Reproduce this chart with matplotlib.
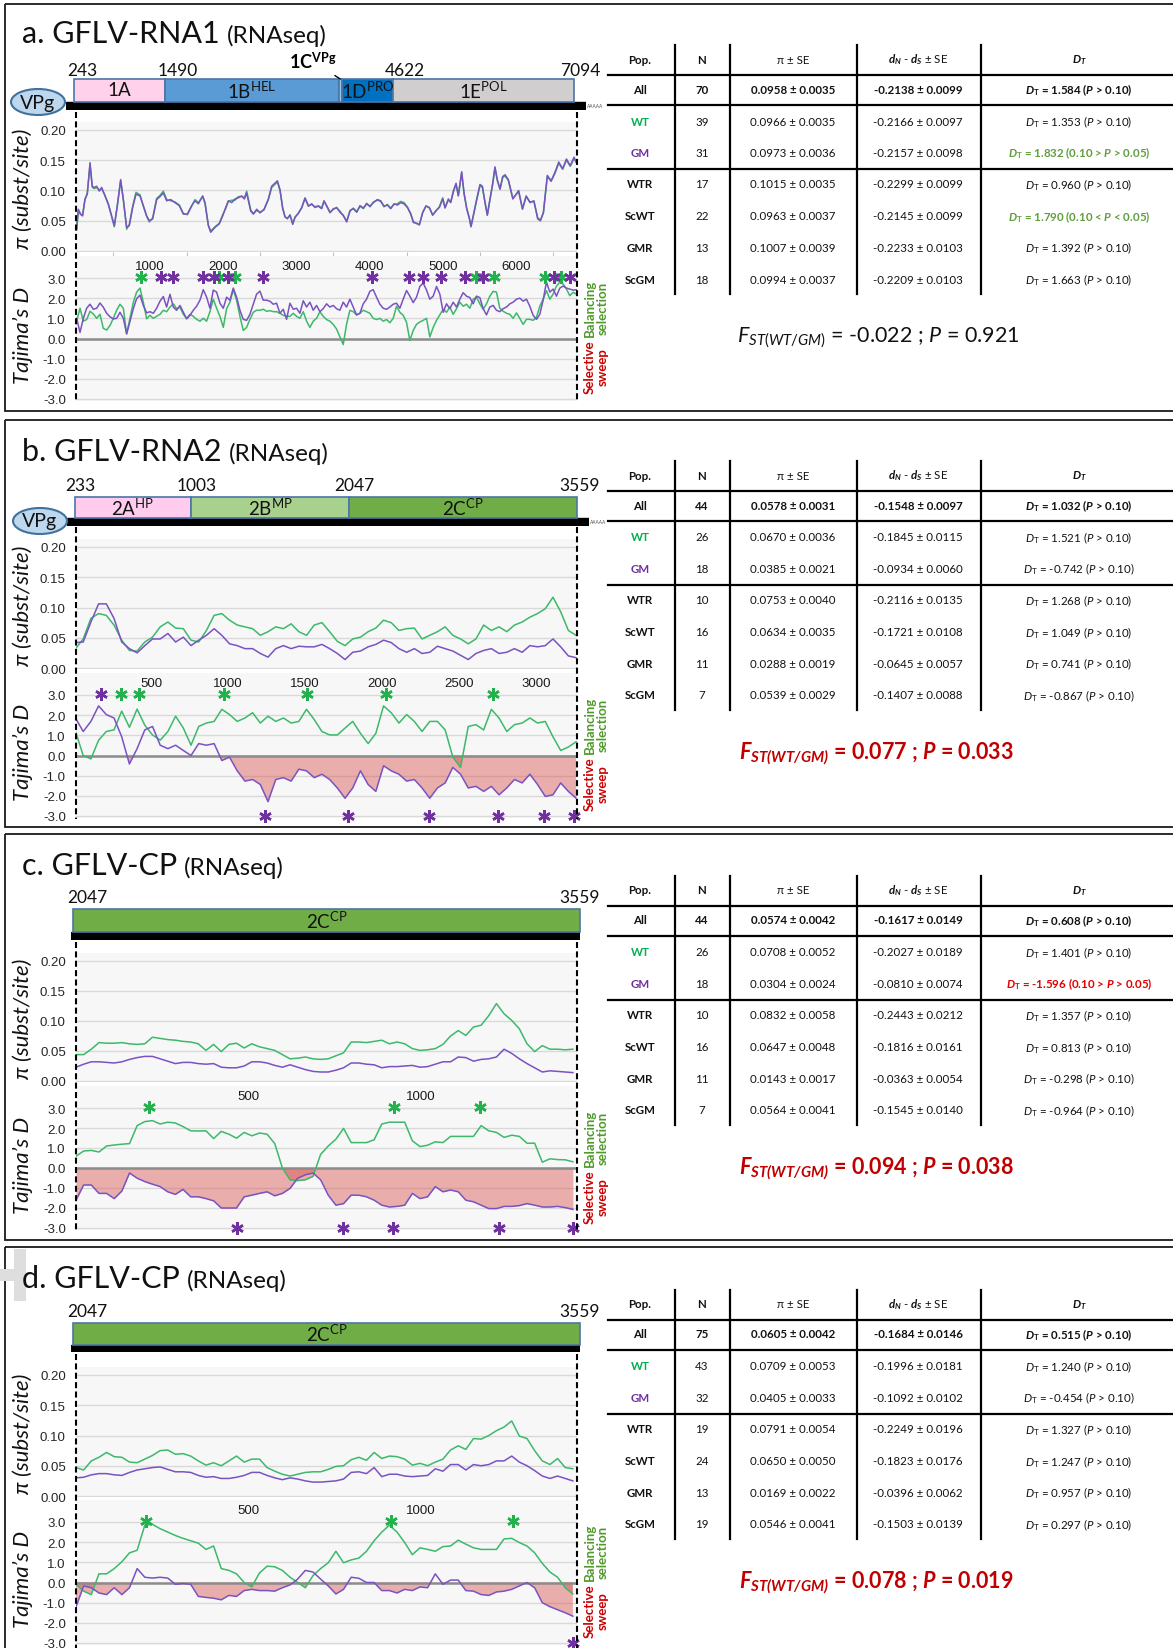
import numpy as np
import matplotlib
matplotlib.use("Agg")
import matplotlib.pyplot as plt
from matplotlib.patches import Rectangle, Ellipse
import matplotlib.transforms as mtransforms

plt.rcParams['font.family'] = ['Lato', 'DejaVu Sans']
plt.rcParams['mathtext.fontset'] = 'custom'
plt.rcParams['mathtext.rm'] = 'Lato'
plt.rcParams['mathtext.it'] = 'Lato:italic'
plt.rcParams['mathtext.bf'] = 'Lato:bold'
plt.rcParams['mathtext.bfit'] = 'Lato:italic:bold'

W, H = 1173, 1649
GREEN = '#3cb96a'
PURPLE = '#7a52c2'

# ---------------- data ----------------
# panel a: GFLV-RNA1, nucleotide diversity (sliding window positions)
a_pi_pos = [0, 22, 54, 81, 113, 145, 182, 213, 240, 272, 309, 341, 386, 432, 477, 513, 554, 600, 636, 682,
            718, 764, 809, 864, 909, 955, 991, 1037, 1091, 1137, 1182, 1228, 1282, 1341, 1400, 1455, 1510, 1569, 1614, 1660,
            1719, 1751, 1796, 1828, 1887, 1946, 1992, 2033, 2069, 2115, 2160, 2206, 2251, 2288, 2319, 2374, 2410, 2456, 2501, 2556,
            2615, 2660, 2738, 2774, 2810, 2842, 2874, 2910, 2947, 2978, 3024, 3070, 3115, 3161, 3206, 3251, 3297, 3342, 3374, 3410,
            3456, 3501, 3547, 3592, 3638, 3683, 3729, 3774, 3820, 3865, 3911, 3956, 4002, 4047, 4102, 4147, 4193, 4238, 4284, 4329,
            4375, 4420, 4465, 4511, 4556, 4593, 4638, 4675, 4720, 4765, 4811, 4856, 4902, 4947, 4993, 5025, 5070, 5102, 5138, 5175,
            5206, 5252, 5284, 5320, 5356, 5379, 5411, 5457, 5502, 5534, 5570, 5602, 5638, 5675, 5706, 5738, 5775, 5811, 5843, 5888,
            5950, 6029, 6081, 6132, 6184, 6237, 6289, 6326, 6367, 6420, 6472, 6524, 6576, 6629, 6681, 6733, 6785, 6811]
a_pi_gm = [.037, .069, .061, .058, .086, .094, .146, .107, .105, .107, .099, .105, .091, .077, .058, .042, .075, .118, .085, .039,
           .042, .072, .094, .091, .075, .058, .050, .053, .085, .090, .096, .083, .085, .080, .075, .061, .061, .075, .083, .078,
           .091, .080, .042, .031, .039, .045, .058, .072, .083, .080, .086, .088, .091, .086, .096, .066, .061, .069, .063, .069,
           .086, .107, .116, .101, .070, .056, .054, .059, .044, .056, .062, .072, .087, .074, .078, .072, .074, .070, .083, .075,
           .064, .069, .072, .064, .059, .048, .067, .070, .064, .075, .071, .078, .074, .080, .085, .083, .074, .076, .070, .078,
           .076, .080, .078, .072, .062, .047, .046, .043, .064, .074, .072, .059, .067, .072, .086, .071, .086, .080, .099, .112,
           .091, .131, .096, .070, .054, .040, .059, .086, .110, .107, .080, .059, .086, .112, .139, .118, .102, .123, .126, .118,
           .086, .100, .069, .091, .080, .083, .053, .050, .064, .125, .116, .130, .147, .136, .152, .141, .155, .147]
a_pi_wt = [.035, .066, .060, .060, .084, .096, .142, .105, .103, .105, .101, .103, .092, .078, .057, .040, .074, .116, .086, .036,
           .044, .074, .097, .093, .074, .057, .048, .055, .087, .092, .099, .085, .083, .081, .076, .062, .060, .074, .085, .080,
           .090, .078, .043, .033, .040, .046, .060, .070, .082, .084, .084, .090, .090, .088, .099, .068, .062, .067, .064, .068,
           .085, .105, .114, .100, .072, .057, .053, .060, .046, .055, .063, .071, .088, .075, .077, .073, .075, .071, .082, .074,
           .063, .070, .071, .066, .058, .050, .066, .071, .065, .074, .070, .079, .073, .081, .084, .082, .073, .077, .071, .077,
           .078, .082, .080, .073, .061, .049, .045, .044, .063, .075, .071, .060, .066, .073, .088, .072, .084, .081, .097, .110,
           .092, .129, .095, .071, .055, .041, .058, .084, .108, .105, .081, .060, .085, .110, .137, .116, .103, .121, .124, .117,
           .087, .098, .070, .090, .081, .082, .055, .051, .063, .123, .115, .128, .145, .135, .150, .140, .153, .148]
# panel a: Tajima's D, windows every 45.45 nt
a_window_step = 45.45
a_d_gm = [1.0, 0.3, 1.0, 1.5, 1.7, 1.45, 1.5, 1.76, 1.55, 1.25, 1.08, 0.97, 1.0, 1.3, 1.0, 0.23, 0.86, 1.48, 1.98, 2.15,
          1.64, 1.27, 1.33, 1.25, 1.5, 1.85, 2.08, 1.56, 2.19, 1.56, 1.4, 1.64, 1.3, 0.97, 1.15, 1.4, 1.6, 1.9, 2.42, 2.05,
          1.5, 2.4, 2.3, 1.75, 1.5, 2.05, 1.9, 2.5, 2.05, 1.4, 0.95, 0.9, 1.2, 1.7, 2.2, 2.35, 1.9, 1.9, 1.85, 1.7, 1.75,
          1.25, 1.45, 0.95, 1.75, 1.45, 1.5, 1.25, 1.87, 1.56, 1.8, 1.4, 1.64, 1.33, 1.48, 1.72, 1.56, 1.64, 1.48, 1.4, 1.8,
          1.56, 1.95, 1.56, 1.17, 1.25, 1.72, 1.95, 2.34, 2.42, 2.05, 1.7, 1.5, 1.45, 1.56, 1.7, 1.75, 1.5, 1.95, 2.38, 2.1,
          1.78, 2.05, 2.58, 2.75, 2.4, 1.95, 2.1, 2.58, 2.2, 1.3, 1.72, 1.48, 1.8, 1.56, 1.95, 2.27, 2.1, 2.03, 1.72, 2.1,
          2.03, 1.48, 1.17, 1.56, 1.64, 1.4, 1.33, 1.48, 1.56, 1.72,
          1.8, 1.95, 2.0, 1.85, 1.95, 1.6, 1.15, 0.95, 1.2, 1.9, 2.8, 2.3, 2.45, 2.1, 2.5, 2.6, 2.5, 2.45, 2.4, 2.42]
a_d_wt = [0.86, 1.5, 0.86, 0.94, 1.35, 1.22, 1.0, 1.2, 0.5, 0.42, 0.65, 1.0, 1.4, 1.7, 1.5, 0.23, 1.0, 1.8, 2.3, 2.5,
          1.8, 0.98, 1.15, 1.0, 1.1, 1.2, 1.4, 1.33, 1.56, 1.72, 1.48, 1.55, 1.2, 1.0, 1.2, 1.1, 0.95, 0.86, 1.0, 0.86,
          1.33, 1.95, 1.5, 1.1, 0.55, 1.48, 1.8, 2.42, 1.9, 1.1, 0.4, 0.55, 0.95, 1.3, 1.4, 1.4, 1.45, 1.35, 1.38, 1.33, 1.33,
          1.25, 1.15, 1.1, 1.1, 1.25, 1.1, 1.0, 1.33, 0.86, 0.55, 0.86, 1.0, 1.33, 1.1, 0.94, 0.86, 0.7, 0.47, 0.08, -0.3,
          0.7, 1.4, 1.33, 1.17, 1.25, 1.4, 1.33, 1.25, 1.0, 0.94, 1.0, 0.86, 0.94, 0.78, 1.0, 1.6, 1.3, 1.15, 0.8, -0.1,
          0.4, 0.7, 0.82, 0.9, 1.0, 0.08, 0.55, 0.9, 1.17, 1.45, 1.3, 1.56, 1.2, 1.48, 1.8, 1.6, 1.7, 1.5, 1.95, 2.05,
          1.72, 1.45, 1.72, 2.1, 2.34, 2.3, 1.5, 1.35, 1.25, 1.2,
          1.0, 1.27, 1.0, 0.7, 0.95, 0.95, 0.9, 1.05, 1.6, 1.95, 2.37, 1.95, 2.2, 2.6, 2.8, 2.7, 2.45, 2.12, 2.29, 2.2]
a_star_wt_top = [877, 1945, 2165, 5443, 5688, 6393, 6603]
a_star_gm_top = [1146, 1314, 1720, 1877, 2060, 2546, 4028, 4530, 4723, 4968, 5297, 5542, 6514, 6723]
a_star_gm_bottom = []

# panel b: GFLV-RNA2, windows every 50 nt starting at 10
b_window_start, b_window_step = 10, 50
b_pi_gm = [.042, .043, .076, .106, .106, .082, .043, .032, .025, .037, .048, .048, .057, .043, .051, .037, .046, .054, .065, .054,
           .040, .037, .032, .032, .024, .018, .032, .037, .032, .036, .035, .035, .039, .032, .024, .014, .026, .028, .035, .039,
           .046, .042, .032, .026, .032, .024, .026, .036, .032, .028, .021, .014, .024, .029, .032, .024, .026, .032, .026, .037,
           .035, .037, .048, .035, .020, .017]
b_pi_wt = [.032, .048, .082, .090, .087, .071, .046, .029, .028, .043, .051, .068, .076, .066, .065, .046, .043, .062, .087, .090,
           .079, .071, .068, .065, .054, .060, .068, .065, .073, .060, .054, .071, .075, .060, .044, .037, .048, .051, .060, .066,
           .079, .075, .062, .065, .066, .048, .054, .060, .068, .054, .048, .040, .048, .071, .062, .068, .060, .071, .076, .084,
           .090, .098, .117, .093, .062, .054]
b_d_gm = [1.86, 1.19, 1.69, 2.46, 2.03, 1.86, 0.93, -0.42, 0.34, 1.27, 1.44, 0.51, 0.34, 0.51, 0.25, 0.0, 0.59, 0.51, 0.59, -0.25,
          -0.08, -0.76, -1.27, -1.19, -1.44, -2.29, -1.19, -1.1, -1.27, -0.68, -0.76, -1.1, -0.93, -1.19, -1.61, -2.12, -1.61, -0.76, -1.44, -1.78,
          -0.51, -0.76, -0.93, -1.27, -1.19, -1.61, -2.12, -1.61, -1.36, -0.59, -0.93, -1.61, -1.53, -1.78, -1.53, -1.95, -1.61, -1.19, -1.36, -0.93,
          -1.44, -2.03, -1.95, -1.36, -1.78, -2.12]
b_d_wt = [1.19, 0.0, -0.17, 0.76, 1.19, 1.27, 2.2, 1.4, 2.3, 1.5, 1.02, 0.76, 1.19, 1.95, 1.36, 0.51, 1.44, 1.61, 1.69, 2.29,
          2.03, 1.69, 1.86, 2.12, 1.61, 1.95, 1.69, 1.86, 1.61, 1.69, 2.29, 1.78, 1.19, 1.02, 1.02, 1.36, 1.69, 1.1, 0.59, 1.1,
          2.46, 2.12, 1.61, 2.03, 1.69, 1.19, 1.69, 1.69, 1.27, -0.08, -0.59, 1.44, 1.53, 1.27, 2.29, 1.86, 1.19, 1.53, 1.61, 1.86,
          1.61, 1.69, 0.93, 0.25, 0.42, 0.68]
b_star_wt_top = [304, 420, 972, 1515, 2025, 2720]
b_star_gm_top = [173]
b_star_gm_bottom = [1242, 1781, 2303, 2750, 3053, 3247]

# panels c and d: GFLV-CP, windows every 22.2 nt
cd_window_step = 22.2
c_pi_wt = [.044, .044, .053, .064, .063, .063, .064, .062, .061, .062, .073, .071, .069, .068, .066, .065, .062, .051, .061, .049,
           .061, .063, .055, .062, .057, .054, .051, .044, .037, .038, .040, .037, .036, .037, .042, .047, .065, .065, .064, .066,
           .068, .062, .065, .062, .054, .051, .052, .054, .061, .075, .084, .076, .090, .093, .109, .129, .112, .101, .087, .062,
           .049, .059, .053, .053, .052, .053]
c_pi_gm = [.023, .028, .032, .032, .031, .030, .032, .036, .039, .041, .041, .037, .033, .029, .031, .031, .029, .028, .029, .023,
           .022, .022, .025, .032, .032, .030, .026, .023, .027, .023, .019, .016, .015, .015, .018, .022, .030, .030, .028, .027,
           .022, .024, .024, .025, .026, .023, .024, .028, .032, .032, .040, .039, .033, .036, .037, .040, .053, .046, .037, .029,
           .022, .015, .017, .016, .015, .014]
c_d_wt = [0.59, 0.85, 0.88, 0.80, 1.10, 1.15, 1.19, 1.22, 2.12, 2.32, 2.37, 2.2, 2.29, 2.25, 2.07, 1.86, 1.85, 1.86, 1.47, 1.83,
          1.69, 1.49, 1.78, 1.61, 1.75, 1.69, 1.22, 0.0, -0.59, -0.63, -0.59, -0.42, 0.68, 1.1, 1.44, 1.98, 1.27, 1.27, 1.27, 1.41,
          2.2, 2.29, 2.29, 2.29, 1.36, 1.07, 1.14, 1.31, 1.27, 1.58, 1.58, 1.58, 1.58, 2.12, 1.86, 1.78, 1.53, 1.64, 1.58, 1.24,
          1.24, 0.29, 0.46, 0.42, 0.41, 0.31]
c_d_gm = [-1.61, -0.85, -0.85, -1.27, -1.27, -1.53, -1.15, -0.25, -0.51, -0.68, -0.81, -0.93, -1.19, -1.32, -1.07, -1.44, -1.44, -1.53, -1.64, -2.0,
          -2.0, -2.0, -1.44, -1.36, -1.27, -1.19, -1.39, -1.27, -1.02, -0.51, -0.34, -0.25, -0.59, -1.36, -1.86, -1.78, -1.36, -1.36, -1.44, -1.61,
          -1.86, -1.95, -1.92, -1.86, -1.27, -1.53, -1.44, -0.93, -1.19, -1.1, -1.19, -1.61, -1.69, -1.86, -2.03, -2.03, -1.92, -1.92, -1.88, -1.78,
          -1.86, -1.95, -1.95, -1.92, -1.98, -2.07]
c_star_wt_top = [213, 924, 1174]
c_star_gm_top = []
c_star_gm_bottom = [468, 774, 921, 1229, 1443]

d_pi_wt = [.047, .043, .058, .064, .072, .065, .064, .056, .055, .061, .067, .075, .076, .069, .070, .066, .058, .051, .055, .050,
           .058, .066, .056, .061, .061, .047, .041, .036, .033, .036, .039, .040, .040, .044, .049, .050, .060, .064, .059, .072,
           .062, .066, .065, .061, .051, .054, .050, .056, .061, .076, .083, .077, .095, .094, .100, .108, .114, .124, .099, .095,
           .075, .058, .052, .062, .047, .045]
d_pi_gm = [.030, .031, .035, .037, .037, .035, .034, .039, .043, .045, .047, .048, .044, .040, .040, .039, .034, .031, .032, .029,
           .029, .031, .034, .039, .039, .034, .030, .027, .030, .028, .025, .023, .023, .024, .025, .028, .039, .040, .037, .047,
           .032, .036, .036, .033, .032, .033, .034, .045, .041, .052, .052, .043, .052, .050, .052, .058, .058, .066, .056, .050,
           .042, .033, .029, .033, .029, .025]
d_d_wt = [-0.09, -0.43, -0.6, 0.43, 0.43, 0.69, 1.03, 1.47, 1.6, 2.84, 2.88, 2.67, 2.5, 2.33, 2.19, 2.07, 1.95, 1.64, 1.81, 0.69,
          0.6, 0.43, 0.0, -0.21, 0.47, 0.81, 0.78, 0.6, 0.26, 0.0, -0.26, 0.34, 0.69, 0.98, 1.55, 0.98, 1.12, 1.21, 1.55, 2.07,
          2.5, 2.84, 2.5, 1.98, 1.38, 1.72, 1.64, 1.55, 1.78, 1.81, 2.1, 1.9, 1.72, 1.64, 1.64, 1.64, 2.16, 2.19, 1.98, 1.81,
          1.47, 0.95, 0.52, 0.26, -0.26, -0.57]
d_d_gm = [-1.21, -0.17, -0.26, -0.52, -0.6, -0.26, -0.6, -0.26, 0.69, 0.26, 0.22, 0.26, 0.22, -0.09, -0.05, -0.09, -0.69, -0.74, -0.78, -0.86,
          -0.64, -0.69, -0.4, -0.34, -0.4, -0.4, -0.43, -0.26, -0.12, 0.17, 0.6, 0.52, 0.17, -0.17, -0.57, -0.34, 0.26, 0.21, 0.0, 0.0,
          -0.4, -0.4, -0.52, -0.34, -0.4, -0.22, -0.26, 0.43, -0.09, 0.12, 0.12, -0.4, -0.43, -0.6, -0.64, -0.47, -0.43, -0.34, -0.17, 0.0,
          -0.26, -1.0, -1.2, -1.35, -1.5, -1.67]
d_star_wt_top = [202, 915, 1268]
d_star_gm_top = []
d_star_gm_bottom = [1443]

# genome maps
a_gene_names = ["1A", "1B$^{\\mathrm{HEL}}$", "", "1D$^{\\mathrm{PRO}}$", "1E$^{\\mathrm{POL}}$"]
a_gene_start = [243, 1490, 3873, 3915, 4622]
a_gene_end = [1490, 3873, 3915, 4622, 7094]
a_gene_colors = ['#ffd1ea', '#5b9bd5', '#9dc3e6', '#0070c0', '#d0cece']
a_map_labels = [243, 1490, 4622, 7094]
b_gene_names = ["2A$^{\\mathrm{HP}}$", "2B$^{\\mathrm{MP}}$", "2C$^{\\mathrm{CP}}$"]
b_gene_start = [233, 1003, 2047]
b_gene_end = [1003, 2047, 3559]
b_gene_colors = ['#ffccee', '#a9d18e', '#70ad47']
b_map_labels = [233, 1003, 2047, 3559]
cp_gene_names = ["2C$^{\\mathrm{CP}}$"]
cp_gene_start = [2047]
cp_gene_end = [3559]
cp_gene_colors = ['#70ad47']
cp_map_labels = [2047, 3559]

a_xticks = [1000, 2000, 3000, 4000, 5000, 6000]
b_xticks = [500, 1000, 1500, 2000, 2500, 3000]
cd_xticks = [500, 1000]

# tables
pops = ["All", "WT", "GM", "WTR", "ScWT", "GMR", "ScGM"]
a_n = [70, 39, 31, 17, 22, 13, 18]
a_pi_mean = [0.0958, 0.0966, 0.0973, 0.1015, 0.0963, 0.1007, 0.0994]
a_pi_se = [0.0035, 0.0035, 0.0036, 0.0035, 0.0037, 0.0039, 0.0037]
a_dnds = [-0.2138, -0.2166, -0.2157, -0.2299, -0.2145, -0.2233, -0.2209]
a_dnds_se = [0.0099, 0.0097, 0.0098, 0.0099, 0.0099, 0.0103, 0.0103]
a_dt = [1.584, 1.353, 1.832, 0.960, 1.790, 1.392, 1.663]
a_pcond = ["P > 0.10", "P > 0.10", "0.10 > P > 0.05", "P > 0.10", "0.10 < P < 0.05", "P > 0.10", "P > 0.10"]
a_dt_flag = ["", "", "green", "", "green", "", ""]
a_fst, a_fst_p = "-0.022", "0.921"

b_n = [44, 26, 18, 10, 16, 11, 7]
b_pi_mean = [0.0578, 0.0670, 0.0385, 0.0753, 0.0634, 0.0288, 0.0539]
b_pi_se = [0.0031, 0.0036, 0.0021, 0.0040, 0.0035, 0.0019, 0.0029]
b_dnds = [-0.1548, -0.1845, -0.0934, -0.2116, -0.1721, -0.0645, -0.1407]
b_dnds_se = [0.0097, 0.0115, 0.0060, 0.0135, 0.0108, 0.0057, 0.0088]
b_dt = [1.032, 1.521, -0.742, 1.268, 1.049, 0.741, -0.867]
b_pcond = ["P > 0.10"] * 7
b_dt_flag = [""] * 7
b_fst, b_fst_p = "0.077", "0.033"

c_n = [44, 26, 18, 10, 16, 11, 7]
c_pi_mean = [0.0574, 0.0708, 0.0304, 0.0832, 0.0647, 0.0143, 0.0564]
c_pi_se = [0.0042, 0.0052, 0.0024, 0.0058, 0.0048, 0.0017, 0.0041]
c_dnds = [-0.1617, -0.2027, -0.0810, -0.2443, -0.1816, -0.0363, -0.1545]
c_dnds_se = [0.0149, 0.0189, 0.0074, 0.0212, 0.0161, 0.0054, 0.0140]
c_dt = [0.608, 1.401, -1.596, 1.357, 0.813, -0.298, -0.964]
c_pcond = ["P > 0.10", "P > 0.10", "0.10 > P > 0.05", "P > 0.10", "P > 0.10", "P > 0.10", "P > 0.10"]
c_dt_flag = ["", "", "red", "", "", "", ""]
c_fst, c_fst_p = "0.094", "0.038"

d_n = [75, 43, 32, 19, 24, 13, 19]
d_pi_mean = [0.0605, 0.0709, 0.0405, 0.0791, 0.0650, 0.0169, 0.0546]
d_pi_se = [0.0042, 0.0053, 0.0033, 0.0054, 0.0050, 0.0022, 0.0041]
d_dnds = [-0.1684, -0.1996, -0.1092, -0.2249, -0.1823, -0.0396, -0.1503]
d_dnds_se = [0.0146, 0.0181, 0.0102, 0.0196, 0.0176, 0.0062, 0.0139]
d_dt = [0.515, 1.240, -0.454, 1.327, 1.247, 0.957, 0.297]
d_pcond = ["P > 0.10"] * 7
d_dt_flag = [""] * 7
d_fst, d_fst_p = "0.078", "0.019"

# ---------------- panel setup ----------------
panels = [
    dict(title="a. GFLV-RNA1", pi_pos=a_pi_pos, pi_wt=a_pi_wt, pi_gm=a_pi_gm,
         d_pos=np.arange(len(a_d_gm)) * a_window_step, d_wt=a_d_wt, d_gm=a_d_gm,
         stars=(a_star_wt_top, a_star_gm_top, a_star_gm_bottom), xticks=a_xticks,
         genes=(a_gene_names, a_gene_start, a_gene_end, a_gene_colors), map_labels=a_map_labels,
         table=(a_n, a_pi_mean, a_pi_se, a_dnds, a_dnds_se, a_dt, a_pcond, a_dt_flag), fst=(a_fst, a_fst_p, False)),
    dict(title="b. GFLV-RNA2", pi_pos=None, pi_wt=b_pi_wt, pi_gm=b_pi_gm,
         d_pos=b_window_start + np.arange(len(b_d_gm)) * b_window_step, d_wt=b_d_wt, d_gm=b_d_gm,
         stars=(b_star_wt_top, b_star_gm_top, b_star_gm_bottom), xticks=b_xticks,
         genes=(b_gene_names, b_gene_start, b_gene_end, b_gene_colors), map_labels=b_map_labels,
         table=(b_n, b_pi_mean, b_pi_se, b_dnds, b_dnds_se, b_dt, b_pcond, b_dt_flag), fst=(b_fst, b_fst_p, True)),
    dict(title="c. GFLV-CP", pi_pos=None, pi_wt=c_pi_wt, pi_gm=c_pi_gm,
         d_pos=np.arange(len(c_d_gm)) * cd_window_step, d_wt=c_d_wt, d_gm=c_d_gm,
         stars=(c_star_wt_top, c_star_gm_top, c_star_gm_bottom), xticks=cd_xticks,
         genes=(cp_gene_names, cp_gene_start, cp_gene_end, cp_gene_colors), map_labels=cp_map_labels,
         table=(c_n, c_pi_mean, c_pi_se, c_dnds, c_dnds_se, c_dt, c_pcond, c_dt_flag), fst=(c_fst, c_fst_p, True)),
    dict(title="d. GFLV-CP", pi_pos=None, pi_wt=d_pi_wt, pi_gm=d_pi_gm,
         d_pos=np.arange(len(d_d_gm)) * cd_window_step, d_wt=d_d_wt, d_gm=d_d_gm,
         stars=(d_star_wt_top, d_star_gm_top, d_star_gm_bottom), xticks=cd_xticks,
         genes=(cp_gene_names, cp_gene_start, cp_gene_end, cp_gene_colors), map_labels=cp_map_labels,
         table=(d_n, d_pi_mean, d_pi_se, d_dnds, d_dnds_se, d_dt, d_pcond, d_dt_flag), fst=(d_fst, d_fst_p, True)),
]
for p in panels:
    if p['pi_pos'] is None:
        p['pi_pos'] = p['d_pos']

# layout in figure pixels
layouts = [
    dict(top=5, bottom=412, title_y=43, pi0=252, pi20=131, d3=279, dm3=400, xlim=(-16, 6825),
         map_px=(66, 585.5, 80, 111), map_xlim=(140, 7251), bar_px=8, num_y=71, num_dx=[9, 13, 11, 6],
         vpg=(38, 103), dash=(113, 402), header=60, minor=True),
    dict(top=421, bottom=828, title_y=461, pi0=669, pi20=548, d3=696, dm3=817, xlim=(10, 3266),
         map_px=(67, 589, 498, 527), map_xlim=(180, 3639), bar_px=8, num_y=486, num_dx=[5, 5, 6, 3],
         vpg=(40, 522), dash=(528, 820), header=476, minor=False),
    dict(top=835, bottom=1241, title_y=875, pi0=1082, pi20=962, d3=1109, dm3=1229, xlim=(-1.5, 1455),
         map_px=(71, 580, 910, 941), map_xlim=(2040, 3559), bar_px=8, num_y=898, num_dx=[14, 0],
         vpg=None, dash=(943, 1231), header=891, minor=False),
    dict(top=1248, bottom=1670, title_y=1288, pi0=1497, pi20=1376, d3=1523, dm3=1644, xlim=(-1.5, 1455),
         map_px=(71, 580, 1324, 1353), map_xlim=(2040, 3559), bar_px=7, num_y=1312, num_dx=[14, 0],
         vpg=None, dash=(1355, 1652), header=1305, minor=False),
]
X0, X1 = 75.5, 577
TFS = 8.3  # table font size

fig = plt.figure(figsize=(W / 100, H / 100), dpi=100)
ov = fig.add_axes([0, 0, 1, 1])
ov.set_xlim(0, W)
ov.set_ylim(H, 0)
ov.axis('off')
ov.set_zorder(10)


def px_axes(x0, x1, y0, y1):
    return fig.add_axes([x0 / W, 1 - y1 / H, (x1 - x0) / W, (y1 - y0) / H])


def style_plot(ax, xlim):
    ax.set_facecolor('#f7f7f7')
    for s in ax.spines.values():
        s.set_visible(False)
    ax.set_xlim(*xlim)
    ax.grid(axis='y', color='#d9d9d9', lw=1)
    ax.set_axisbelow(True)
    ax.tick_params(axis='y', length=0, labelsize=9.5, pad=7, labelcolor='#262626',
                   labelfontfamily='Liberation Sans')


def dt_text(v, cond, bold):
    if bold:
        D, P = r'$\mathbfit{D}_\mathbf{T}$', r'$\mathbfit{P}$'
    else:
        D, P = r'$D_\mathrm{T}$', r'$P$'
    return f"{D} = {v:.3f} ({cond.replace('P', P)})"


renderer = fig.canvas.get_renderer()

for p, L in zip(panels, layouts):
    # panel frame and title
    ov.add_patch(Rectangle((5, L['top']), 1180, L['bottom'] - L['top'], fill=False, ec='#1a1a1a', lw=1.3))
    t1 = ov.text(22, L['title_y'], p['title'], fontsize=22, va='baseline', color='#111111')
    bb = t1.get_window_extent(renderer)
    ov.text(bb.x1 + 7, L['title_y'], "(RNAseq)", fontsize=17.5, va='baseline', color='#111111')

    # genome map
    mx0, mx1, my0, my1 = L['map_px']
    axm = px_axes(mx0, mx1, my0, my1)
    axm.set_xlim(*L['map_xlim'])
    axm.set_ylim(0, 1)
    axm.axis('off')
    bf = L['bar_px'] / (my1 - my0)
    axm.axhspan(0, bf, color='black')
    names, starts, ends, cols = p['genes']
    for nm, s, e, c in zip(names, starts, ends, cols):
        axm.add_patch(Rectangle((s, bf), e - s, 1 - bf, fc=c, ec='#4a76a8', lw=1.2, clip_on=False))
        if nm:
            axm.text((s + e) / 2, (bf + 1) / 2 + 0.02, nm, ha='center', va='center', fontsize=13.5, color='#111111')
    blend = mtransforms.blended_transform_factory(axm.transData, ov.transData)
    for lab, dx in zip(p['map_labels'], L['num_dx']):
        tr = mtransforms.offset_copy(blend, fig=fig, x=dx, y=0, units='dots')
        ov.text(lab, L['num_y'], str(lab), transform=tr, ha='center', va='center', fontsize=12.5, color='#111111')
    if len(names) == 5:
        vs, ve = starts[2], ends[2]
        axm.annotate(r"1C$^{\mathbf{VPg}}$", xy=((vs + ve) / 2, 1.0), xytext=(-28, 18), textcoords='offset pixels',
                     ha='center', va='center', fontsize=13, fontweight='bold', annotation_clip=False,
                     arrowprops=dict(arrowstyle='-', color='black', lw=1, shrinkA=2, shrinkB=0))
    if L['vpg'] is not None:
        ex, ey = L['vpg']
        ov.add_patch(Ellipse((ex, ey), 54, 26, fc='#bdd7ee', ec='#41719c', lw=1.5))
        ov.text(ex, ey, "VPg", ha='center', va='center', fontsize=14, color='#111111')
        ov.text(mx1 + 1, my1 - L['bar_px'] / 2, "AAAAA", ha='left', va='center', fontsize=3.5, color='#555555')

    # pi plot
    s_pi = (L['pi0'] - L['pi20']) / 0.2
    axp = px_axes(X0, X1, L['pi0'] - 0.213 * s_pi, L['pi0'] + 0.002 * s_pi)
    style_plot(axp, L['xlim'])
    axp.set_ylim(-0.002, 0.213)
    axp.set_yticks([0, 0.05, 0.10, 0.15, 0.20])
    axp.set_yticklabels(['0.00', '0.05', '0.10', '0.15', '0.20'])
    if L['minor']:
        axp.set_xticks([t - 500 for t in p['xticks']] + [p['xticks'][-1] + 500])
        axp.tick_params(axis='x', length=4, color='#bfbfbf', labelbottom=False)
    else:
        axp.set_xticks([])
    axp.plot(p['pi_pos'], p['pi_wt'], color=GREEN, lw=1.1)
    axp.plot(p['pi_pos'], p['pi_gm'], color=PURPLE, lw=1.1)

    # Tajima's D plot
    s_d = (L['dm3'] - L['d3']) / 6
    zero = (L['d3'] + L['dm3']) / 2
    axd = px_axes(X0, X1, zero - 4.1 * s_d, zero + 3.1 * s_d)
    style_plot(axd, L['xlim'])
    axd.set_ylim(-3.1, 4.1)
    axd.set_yticks([-3, -2, -1, 0, 1, 2, 3])
    axd.set_yticklabels(['-3.0', '-2.0', '-1.0', '0.0', '1.0', '2.0', '3.0'])
    axd.set_xticks([])
    x = np.asarray(p['d_pos'], dtype=float)
    dgm = np.asarray(p['d_gm'])
    dwt = np.asarray(p['d_wt'])
    for dd in (dgm, dwt):
        axd.fill_between(x, dd, 0, where=dd < 0, interpolate=True, color='#d9534f', alpha=0.45, lw=0, zorder=1)
    axd.axhline(0, color='#8c8c8c', lw=1.8, zorder=2)
    axd.plot(x, dwt, color=GREEN, lw=1.1, zorder=3)
    axd.plot(x, dgm, color=PURPLE, lw=1.1, zorder=4)
    for t in p['xticks']:
        axd.text(t, 3.6, str(t), ha='center', va='center', fontsize=9.5, family='Liberation Sans', color='#1a1a1a')
    wt_top, gm_top, gm_bot = p['stars']
    star = dict(ls='none', marker=(6, 2, 0), ms=9, mew=1.8, clip_on=False, zorder=6)
    axd.plot(wt_top, [3.05] * len(wt_top), color='#22b14c', **star)
    axd.plot(gm_top, [3.05] * len(gm_top), color='#7030a0', **star)
    axd.plot(gm_bot, [-3.0] * len(gm_bot), color='#7030a0', **star)

    # side labels, dashed boundaries
    ov.text(23, L['pi0'] - 0.105 * s_pi, "π (subst/site)", rotation=90, ha='center', va='center',
            fontsize=16, style='italic', color='#111111')
    ov.text(23, zero - 4, "Tajima’s D", rotation=90, ha='center', va='center',
            fontsize=16, style='italic', color='#111111')
    ov.text(596, zero - 31, "Balancing\nselection", rotation=90, ha='center', va='center', fontsize=9.5,
            fontweight='bold', color='#4f9a2a', linespacing=1.1)
    ov.text(596, zero + 28, "Selective\nsweep", rotation=90, ha='center', va='center', fontsize=9.5,
            fontweight='bold', color='#cc0000', linespacing=1.1)
    for xx in (X0, X1):
        ov.plot([xx, xx], list(L['dash']), color='black', lw=1.5, ls=(0, (2.9, 1.6)))

    # table
    hy = L['header']
    n, pim, pise, dn, dnse, dt, pcond, flags = p['table']
    cx = [640, 702, 793, 918, 1079]
    for xx in [675, 730, 857, 981]:
        ov.plot([xx, xx], [hy - 14, hy + 235], color='black', lw=1.6)
    for yy in [hy + 16, hy + 46, hy + 109.5]:
        ov.plot([608, W], [yy, yy], color='black', lw=1.6)
    hdr = ["Pop.", "N", "π ± SE", r"$\mathbfit{d}_\mathbfit{N}$ - $\mathbfit{d}_\mathbfit{S}$ ± SE",
           r"$\mathbfit{D}_\mathbfit{T}$"]
    hw = ['bold', 'bold', 'normal', 'normal', 'normal']
    for xx, tx, w in zip(cx, hdr, hw):
        ov.text(xx, hy, tx, ha='center', va='center', fontsize=TFS, fontweight=w, color='#111111')
    row_dy = [30, 62, 93.5, 125, 157, 188.5, 220]
    pop_colors = ['#111111', '#00b050', '#7030a0', '#111111', '#111111', '#111111', '#111111']
    for i, dy in enumerate(row_dy):
        yy = hy + dy
        bold = i == 0
        w = 'bold' if bold else 'normal'
        ov.text(cx[0], yy, pops[i], ha='center', va='center', fontsize=TFS, fontweight='bold', color=pop_colors[i])
        ov.text(cx[1], yy, str(n[i]), ha='center', va='center', fontsize=TFS, fontweight=w, color='#111111')
        ov.text(cx[2], yy, f"{pim[i]:.4f} ± {pise[i]:.4f}", ha='center', va='center', fontsize=TFS,
                fontweight=w, color='#111111')
        ov.text(cx[3], yy, f"{dn[i]:.4f} ± {dnse[i]:.4f}", ha='center', va='center', fontsize=TFS,
                fontweight=w, color='#111111')
        fl = flags[i]
        col = {'': '#111111', 'green': '#5f9e3b', 'red': '#e00000'}[fl]
        b2 = bold or fl != ''
        ov.text(cx[4], yy, dt_text(dt[i], pcond[i], b2), ha='center', va='center', fontsize=TFS,
                fontweight='bold' if b2 else 'normal', color=col)
    fv, fp, fb = p['fst']
    if fb:
        ov.text(876, hy + 278, r"$\mathbfit{F}_{\mathbfit{ST(WT/GM)}}$" + f" = {fv} ; " + r"$\mathbfit{P}$" + f" = {fp}",
                ha='center', va='center', fontsize=15.5, fontweight='bold', color='#c00000')
    else:
        ov.text(878, hy + 278, r"$F_{ST(WT/GM)}$" + f" = {fv} ; " + r"$P$" + f" = {fp}",
                ha='center', va='center', fontsize=15.5, color='#111111')

# faint scanning artifact at the top-left of panel d
ov.add_patch(Rectangle((14, 1250), 12, 52, color='#dedede', lw=0))
ov.add_patch(Rectangle((0, 1270), 26, 12, color='#dedede', lw=0))

fig.savefig("out.png", dpi=100)
